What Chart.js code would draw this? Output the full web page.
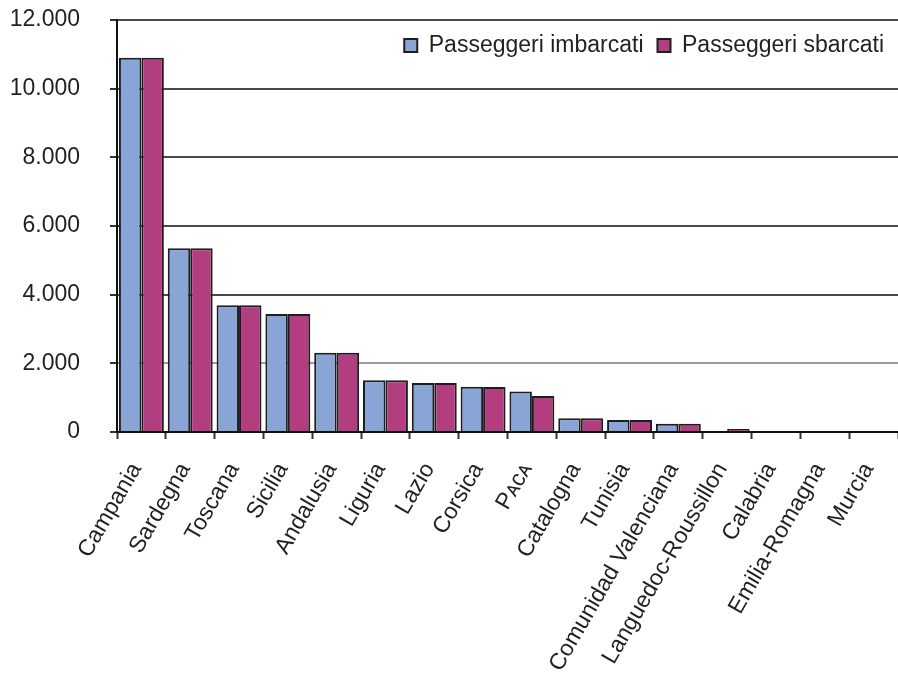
<!DOCTYPE html>
<html>
<head>
<meta charset="utf-8">
<script src="https://cdn.jsdelivr.net/npm/chart.js@4/dist/chart.umd.min.js"></script>
<style>
  html, body { margin: 0; padding: 0; background: #ffffff; }
  #wrap { width: 898px; height: 680px; }
</style>
</head>
<body>
<div id="wrap"><canvas id="c" width="898" height="680"></canvas></div>
<script>
// Regions (x axis categories)
const regions = [
  "Campania", "Sardegna", "Toscana", "Sicilia", "Andalusia", "Liguria",
  "Lazio", "Corsica", "P\u1D00\u1D04\u1D00", "Catalogna", "Tunisia",
  "Comunidad Valenciana", "Languedoc-Roussillon", "Calabria",
  "Emilia-Romagna", "Murcia"
];

// Passengers (thousands) per region
const imbarcati = [10900, 5350, 3690, 3440, 2310, 1510, 1430, 1320, 1180, 400, 350, 240, 0, 0, 0, 0];
const sbarcati  = [10900, 5350, 3690, 3440, 2310, 1510, 1430, 1310, 1050, 400, 350, 240, 90, 0, 0, 0];

// Value axis
const yMin = 0;
const yMax = 12000;
const yStep = 2000;

const seriesNames = ["Passeggeri imbarcati", "Passeggeri sbarcati"];

const FONT = '"Liberation Sans", Arial, "DejaVu Sans", sans-serif';
const TEXT = '#231f20';

function thousands(v) {
  return String(v).replace(/\B(?=(\d{3})+(?!\d))/g, '.');
}

const barBorder = (ctx) => (ctx.raw === 0 ? 0 : 2);

// Let the legend overlay the top of the plot area instead of reserving a band above it.
const legendInPlot = {
  id: 'legendInPlot',
  beforeLayout(chart) {
    const lg = chart.legend;
    if (!lg || lg.__inPlot) return;
    const fit = lg.fit;
    lg.fit = function () {
      fit.call(this);
      this.__realHeight = this.height;
      this.height = 0;
    };
    lg.__inPlot = true;
  },
  afterLayout(chart) {
    const lg = chart.legend;
    if (lg && lg.__realHeight) {
      lg.height = lg.__realHeight;
      lg.bottom = lg.top + lg.__realHeight;
    }
  }
};

new Chart(document.getElementById('c'), {
  type: 'bar',
  data: {
    labels: regions,
    datasets: [
      {
        label: seriesNames[0],
        data: imbarcati,
        backgroundColor: '#88a5d6',
        borderColor: '#1e1e22',
        borderWidth: barBorder,
        categoryPercentage: 0.92,
        barPercentage: 1.0
      },
      {
        label: seriesNames[1],
        data: sbarcati,
        backgroundColor: '#b23e80',
        borderColor: '#1e1e22',
        borderWidth: barBorder,
        categoryPercentage: 0.92,
        barPercentage: 1.0
      }
    ]
  },
  plugins: [legendInPlot],
  options: {
    responsive: false,
    animation: false,
    devicePixelRatio: 1,
    layout: { padding: { top: 20, right: 0, bottom: 0, left: 0 } },
    plugins: {
      tooltip: { enabled: false },
      legend: {
        position: 'top',
        align: 'end',
        labels: {
          boxWidth: 13,
          boxHeight: 13,
          padding: 14,
          color: TEXT,
          font: { family: FONT, size: 23 }
        }
      }
    },
    scales: {
      x: {
        grid: {
          drawOnChartArea: false,
          drawTicks: true,
          tickLength: 7,
          tickColor: '#333333',
          tickWidth: 2,
          offset: true
        },
        border: { color: '#111111', width: 2 },
        ticks: {
          autoSkip: false,
          maxRotation: 60,
          minRotation: 60,
          padding: 19,
          labelOffset: -5,
          color: TEXT,
          font: { family: FONT, size: 23 }
        },
        afterFit: (scale) => {
          scale.height = 248;
          scale.paddingLeft = 0;
          scale.paddingRight = 0;
        }
      },
      y: {
        min: yMin,
        max: yMax,
        ticks: {
          stepSize: yStep,
          padding: 30,
          color: TEXT,
          font: { family: FONT, size: 23 },
          callback: (v) => thousands(v)
        },
        grid: {
          color: (ctx) => (ctx.tick && ctx.tick.value === 2000 ? '#9a9a9a' : '#4a4a4a'),
          lineWidth: 2,
          tickLength: 7,
          tickColor: '#333333',
          tickWidth: 2
        },
        border: { color: '#111111', width: 2 },
        afterFit: (scale) => {
          scale.width = 117;
          scale.paddingTop = 0;
          scale.paddingBottom = 0;
        }
      }
    }
  }
});
</script>
</body>
</html>
